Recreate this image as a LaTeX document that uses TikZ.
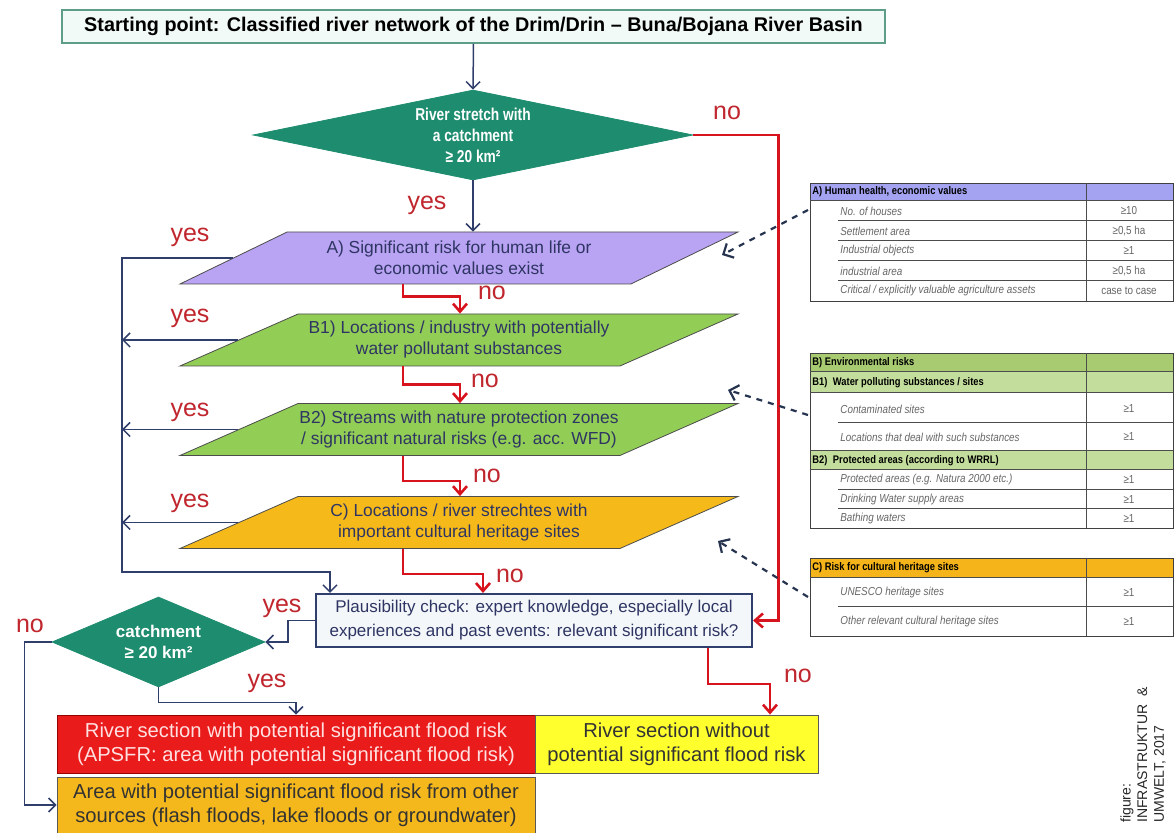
\documentclass[tikz,border=0pt]{standalone}
\usepackage{fontspec}
\setmainfont{Liberation Sans}
\newfontfamily\narrowfont[FakeStretch=0.85]{Liberation Sans}
\newfontfamily\condfont[FakeStretch=0.8]{Liberation Sans}
\usetikzlibrary{shapes.geometric,arrows.meta,calc}

\definecolor{startfill}{HTML}{F2FAF7}
\definecolor{startborder}{HTML}{5E9E88}
\definecolor{decgreen}{HTML}{1E8C6E}
\definecolor{riskAfill}{HTML}{B9A3F3}
\definecolor{riskBfill}{HTML}{92CD55}
\definecolor{riskCfill}{HTML}{F5BA1A}
\definecolor{textnavy}{HTML}{2E3563}
\definecolor{navyline}{HTML}{2F3E6B}
\definecolor{redline}{HTML}{D7141E}
\definecolor{labelred}{HTML}{C0262D}
\definecolor{plausfill}{HTML}{F4F7FA}
\definecolor{resred}{HTML}{EA1B1B}
\definecolor{resyellow}{HTML}{FFFF2E}
\definecolor{resorange}{HTML}{F5B81C}
\definecolor{hdrA}{HTML}{A3A3F2}
\definecolor{hdrB}{HTML}{A8CB72}
\definecolor{subB}{HTML}{C3DE9C}
\definecolor{hdrC}{HTML}{F4B41A}
\definecolor{dashcol}{HTML}{27344F}

\begin{document}
\begin{tikzpicture}[x=0.5pt, y=-0.5pt,
  startbox/.style={draw=startborder, fill=startfill, line width=0.8pt, minimum width=411.5pt,
    minimum height=16.5pt, inner sep=0pt, font=\bfseries\fontsize{9.9}{11}\selectfont},
  decision/.style={diamond, fill=decgreen, draw=decgreen, text=white, inner sep=0pt, align=center},
  risk/.style={trapezium, trapezium left angle=17.5, trapezium right angle=162.5,
    trapezium stretches body, draw=gray!60!black, line width=0.4pt, minimum width=279pt,
    minimum height=26pt, inner sep=0pt, align=center, text=textnavy,
    font=\fontsize{8.7}{10.5}\selectfont},
  plausbox/.style={draw=navyline, fill=plausfill, line width=1pt, minimum width=218pt,
    minimum height=26.5pt, inner sep=0pt, align=center, text=textnavy,
    font=\fontsize{8.5}{12}\selectfont},
  resultbox/.style={draw=gray!70!black, line width=0.4pt, minimum height=29pt, inner sep=0pt,
    align=center, font=\fontsize{10.1}{12}\selectfont},
  noline/.style={draw=redline, line width=1.3pt, -{Straight Barb[length=4pt,width=7pt]}},
  yesline/.style={draw=navyline, line width=0.75pt},
  yestip/.style={-{Straight Barb[length=3.5pt,width=7pt]}},
  answer/.style={text=labelred, font=\fontsize{12.5}{12.5}\selectfont},
  tabframe/.style={draw=gray!50!black, line width=0.6pt, inner sep=0pt},
  tabline/.style={draw=gray!60!black, line width=0.5pt},
  tabhead/.style={anchor=west, inner sep=0pt, font=\narrowfont\bfseries\fontsize{5.5}{6}\selectfont},
  tabrow/.style={anchor=west, inner sep=0pt, text=gray!80!black,
    font=\narrowfont\itshape\fontsize{5.8}{6}\selectfont},
  tabval/.style={inner sep=0pt, text=gray!80!black, font=\narrowfont\fontsize{5.8}{6}\selectfont},
  refarrow/.style={draw=dashcol, line width=1.1pt, dashed, -{Straight Barb[length=4pt,width=8pt]}}]

\useasboundingbox (0,0) rectangle (1175,833);

% main flow
\node[startbox] (start) at (473.5,26.5) {Starting point: Classified river network of the Drim/Drin -- Buna/Bojana River Basin};
\node[decision, minimum width=220pt, minimum height=45pt, aspect=4.9,
  font=\condfont\bfseries\fontsize{8.6}{10.5}\selectfont] (river) at (473,135)
  {River stretch with\\a catchment\\≥ 20 km²};
\node[risk, fill=riskAfill] (riskA) at (459,258) {A) Significant risk for human life or\\economic values exist};
\node[risk, fill=riskBfill] (riskB1) at (459,340) {B1) Locations / industry with potentially\\water pollutant substances};
\node[risk, fill=riskBfill] (riskB2) at (459,429.5) {B2) Streams with nature protection zones\\/ significant natural risks (e.g. acc. WFD)};
\node[risk, fill=riskCfill] (riskC) at (459,522.5) {C) Locations / river strechtes with\\important cultural heritage sites};
\node[plausbox] (plaus) at (534,620.5) {Plausibility check: expert knowledge, especially local\\experiences and past events: relevant significant risk?};
\node[decision, minimum width=106.5pt, minimum height=45pt, aspect=2.37,
  font=\bfseries\fontsize{8.5}{10.5}\selectfont] (catch) at (158.5,642) {catchment\\≥ 20 km²};

% results
\node[resultbox, fill=resred, draw=red!60!black, text=white!88!red, minimum width=239pt] (apsfr) at (296,744)
  {River section with potential significant flood risk\\(APSFR: area with potential significant flood risk)};
\node[resultbox, fill=resyellow, text=black!80, minimum width=141.5pt] (nofr) at (676.5,744)
  {River section without\\potential significant flood risk};
\node[resultbox, fill=resorange, text=black!80, minimum width=239pt, minimum height=28pt] (other) at (296,805)
  {Area with potential significant flood risk from other\\sources (flash floods, lake floods or groundwater)};

% connectors
\coordinate (noout) at (403,0);
\coordinate (noin) at (460,0);
\coordinate (plausin) at (483,0);
\coordinate (bus) at (122,572);
\coordinate (plausyes) at (330,0);
\coordinate (plausno) at (708,0);
\coordinate (nofrin) at (770,0);

\draw[yesline, yestip] (start.south) -- (river.north);
\draw[yesline, yestip] (river.south) -- (river.south |- riskA.north);
\draw[noline] (river.east) -- ++(85,0) |- (plaus.east);
\foreach \from/\to/\drop in {riskA/riskB1/12, riskB1/riskB2/18, riskB2/riskC/25}
  \draw[noline] (\from.south -| noout) -- ++(0,\drop) -| (\to.north -| noin);
\draw[noline] (riskC.south -| noout) -- ++(0,25) -| (plaus.north -| plausin);
\draw[yesline, yestip] (riskA.west) -| (bus) -| (plaus.north -| plausyes);
\foreach \r in {riskB1,riskB2,riskC}
  \draw[yesline, yestip] (\r.west) -- (\r.west -| bus);
\draw[yesline, yestip] (plaus.west) -- ++(-27,0) |- (catch.east);
\draw[yesline, yestip] (catch.west) -- ++(-27,0) |- (other.west);
\draw[yesline, yestip] (catch.south) -- ++(0,15) -| (apsfr.north);
\draw[noline] (plaus.south -| plausno) -- ++(0,36) -| (nofr.north -| nofrin);

% yes / no
\foreach \n/\x/\y/\t in {1/727/113/no, 2/427/205/yes, 3/190/237/yes, 4/492/293/no, 5/190/318/yes,
  6/485/381/no, 7/190/412/yes, 8/487/476/no, 9/190/503/yes, 10/510/576/no, 11/282/608/yes,
  12/30/626/no, 13/267/683/yes, 14/798/676/no}
  \node[answer] (ans\n) at (\x,\y) {\t};

% table A
\fill[hdrA] (810,183) rectangle (1173,201);
\node[tabframe, minimum width=181.5pt, minimum height=59pt, anchor=north west] (tabA) at (810,183) {};
\draw[tabline] (810,201) -- (1173,201) (1086,183) -- (1086,301);
\foreach \y in {221,241,261,281}
  \draw[tabline] (838,\y) -- (1173,\y);
\node[tabhead] (headA) at (812,192) {A) Human health, economic values};
\foreach \i/\item/\val in {1/No. of houses/≥10, 2/Settlement area/{≥0,5 ha}, 3/Industrial objects/≥1,
  4/industrial area/{≥0,5 ha}, 5/{Critical / explicitly valuable agriculture assets}/case to case} {
  \node[tabrow] (itemA\i) at (840,{191+20*\i}) {\item};
  \node[tabval] (valA\i) at (1129,{191+20*\i}) {\val};
}

% table B
\fill[hdrB] (810,353) rectangle (1173,372);
\fill[subB] (810,372) rectangle (1173,393);
\fill[subB] (810,451) rectangle (1173,470);
\node[tabframe, minimum width=181.5pt, minimum height=87.5pt, anchor=north west] (tabB) at (810,353) {};
\draw[tabline] (810,372) -- (1173,372) (810,393) -- (1173,393) (810,451) -- (1173,451)
  (810,470) -- (1173,470) (1086,353) -- (1086,528);
\foreach \y in {423,490,509}
  \draw[tabline] (838,\y) -- (1173,\y);
\node[tabhead] (headB) at (812,362.5) {B) Environmental risks};
\node[tabhead] (headB1) at (812,382.5) {B1)\enspace Water polluting substances / sites};
\node[tabhead] (headB2) at (812,460.5) {B2)\enspace Protected areas (according to WRRL)};
\foreach \i/\y/\item in {1/409/Contaminated sites, 2/437/Locations that deal with such substances,
  3/480/Protected areas (e.g. Natura 2000 etc.), 4/499.5/Drinking Water supply areas, 5/518.5/Bathing waters} {
  \node[tabrow] (itemB\i) at (840,\y) {\item};
  \node[tabval] (valB\i) at (1129,\y) {≥1};
}

% table C
\fill[hdrC] (810,558) rectangle (1173,578);
\node[tabframe, minimum width=181.5pt, minimum height=39pt, anchor=north west] (tabC) at (810,558) {};
\draw[tabline] (810,578) -- (1173,578) (838,607) -- (1173,607) (1086,558) -- (1086,636);
\node[tabhead] (headC) at (812,568) {C) Risk for cultural heritage sites};
\foreach \i/\y/\item in {1/593/UNESCO heritage sites, 2/621.5/Other relevant cultural heritage sites} {
  \node[tabrow] (itemC\i) at (840,\y) {\item};
  \node[tabval] (valC\i) at (1129,\y) {≥1};
}

% references to the tables
\coordinate (toA) at (722,255);
\coordinate (toB) at (728,390);
\coordinate (toC) at (718,541);
\draw[refarrow] ($(tabA.north west)+(-2,27)$) -- (toA);
\draw[refarrow] ($(tabB.north west)+(-2,62)$) -- (toB);
\draw[refarrow] ($(tabC.north west)+(-2,39)$) -- (toC);

% source
\node[rotate=90, anchor=north west, align=left, inner sep=0pt, text=black!85,
  font=\fontsize{7}{8.3}\selectfont] (credit) at (1120,823) {figure:\\INFRASTRUKTUR \ \&\\UMWELT, 2017};
\end{tikzpicture}
\end{document}
